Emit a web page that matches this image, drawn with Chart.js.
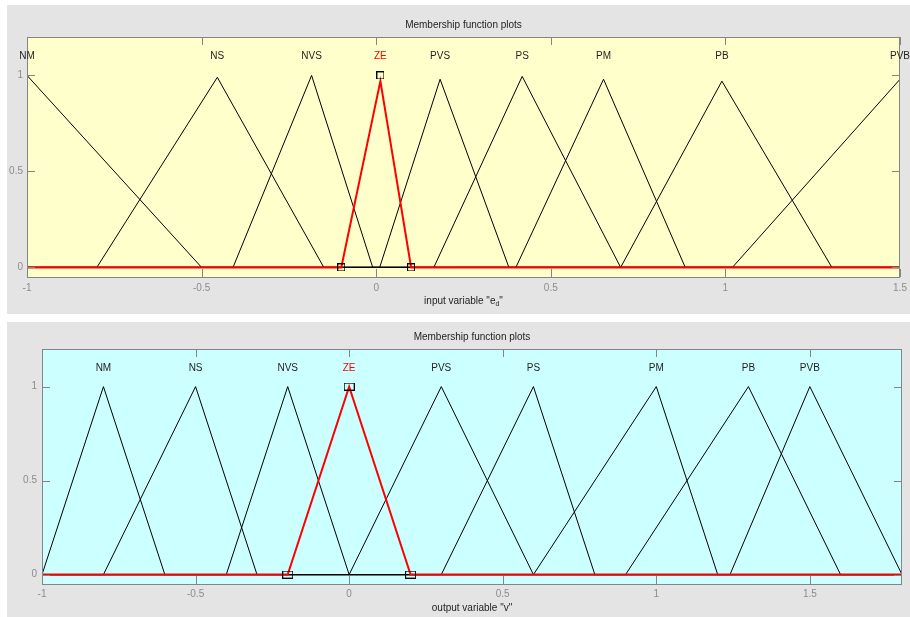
<!DOCTYPE html>
<html>
<head>
<meta charset="utf-8">
<title>Membership function plots</title>
<script src="https://cdn.jsdelivr.net/npm/chart.js@4.4.1/dist/chart.umd.min.js"></script>
<style>
  body { margin: 0; background: #fff; width: 910px; height: 617px; overflow: hidden; position: relative; }
  .panel { position: absolute; left: 7px; width: 903px; background: #e4e4e4; }
  .panel canvas { display: block; }
  #p1 { top: 5px; height: 309px; }
  #p2 { top: 322px; height: 295px; }
</style>
</head>
<body>
<div class="panel" id="p1"><canvas id="inChart" width="903" height="309"></canvas></div>
<div class="panel" id="p2"><canvas id="outChart" width="903" height="295"></canvas></div>
<script>
// triangular membership functions: left foot, peak, right foot (null = open shoulder)
const mfNames = ['NM', 'NS', 'NVS', 'ZE', 'PVS', 'PS', 'PM', 'PB', 'PVB'];
const selectedMf = 'ZE';

// input variable e_d
const inLeft   = [null, -0.80, -0.41, -0.10, 0.01, 0.165, 0.40, 0.70, 1.02];
const inPeak   = [-1, -0.455, -0.185, 0.012, 0.183, 0.418, 0.651, 0.99, 1.5];
const inRight  = [-0.5, -0.15, -0.01, 0.10, 0.38, 0.70, 0.885, 1.305, null];
const inHeight = [1, 0.99, 1, 0.97, 0.98, 0.995, 0.98, 0.97, 0.98];
const inTicks  = [-1, -0.5, 0, 0.5, 1, 1.5];

// output variable v
const outLeft   = [-1, -0.8, -0.4, -0.2, 0, 0.3, 0.6, 0.9, 1.24];
const outPeak   = [-0.8, -0.5, -0.2, 0, 0.3, 0.6, 1.0, 1.3, 1.5];
const outRight  = [-0.6, -0.3, 0, 0.2, 0.6, 0.8, 1.2, 1.6, 1.8];
const outHeight = [1, 1, 1, 1, 1, 1, 1, 1, 1];
const outTicks  = [-1, -0.5, 0, 0.5, 1, 1.5];

const yTicks = [0, 0.5, 1];

const FONT = "'Liberation Sans', Arial, sans-serif";

// small open box used to mark the parameters of the selected function
function boxMarker(w, h) {
    const c = document.createElement('canvas');
    c.width = w;
    c.height = h;
    const g = c.getContext('2d');
    g.strokeStyle = '#000';
    g.lineWidth = 1;
    g.strokeRect(0.5, 0.5, w - 1, h - 1);
    return c;
}

// axes background, inward ticks, mf names, title and x label
const panelDecor = {
    id: 'panelDecor',
    beforeDraw(chart, args, o) {
        const { ctx, chartArea: a } = chart;
        ctx.save();
        ctx.fillStyle = o.bg;
        ctx.fillRect(a.left, a.top, a.right - a.left, a.bottom - a.top);
        ctx.restore();
    },
    afterDraw(chart, args, o) {
        const { ctx, chartArea: a, scales: { x, y } } = chart;
        ctx.save();
        ctx.strokeStyle = '#858585';
        ctx.lineWidth = 1;
        ctx.beginPath();
        o.xTicks.forEach(v => {
            const px = Math.round(x.getPixelForValue(v)) + 0.5;
            ctx.moveTo(px, a.bottom); ctx.lineTo(px, a.bottom - 8);
            ctx.moveTo(px, a.top); ctx.lineTo(px, a.top + 8);
        });
        o.yTicks.forEach(v => {
            const py = Math.round(y.getPixelForValue(v)) + 0.5;
            ctx.moveTo(a.left, py); ctx.lineTo(a.left + 8, py);
            ctx.moveTo(a.right, py); ctx.lineTo(a.right - 8, py);
        });
        ctx.stroke();
        ctx.strokeRect(Math.round(a.left) + 0.5, Math.round(a.top) + 0.5,
            Math.round(a.right - a.left) - 1, Math.round(a.bottom - a.top));

        // membership function names above their peaks
        ctx.font = '10px ' + FONT;
        ctx.textAlign = 'center';
        ctx.textBaseline = 'middle';
        const ly = y.getPixelForValue(1.1);
        o.names.forEach((n, i) => {
            ctx.fillStyle = n === selectedMf ? '#ff0000' : '#1e1e1e';
            ctx.fillText(n, x.getPixelForValue(o.peaks[i]), ly);
        });

        const cx = (a.left + a.right) / 2;
        ctx.fillStyle = '#1e1e1e';
        ctx.fillText('Membership function plots', cx, a.top - 12);

        // x label, with optional subscript part
        let total = 0;
        o.xlabel.forEach(p => {
            ctx.font = (p.sub ? '7px ' : '10px ') + FONT;
            total += ctx.measureText(p.text).width;
        });
        let tx = cx - total / 2;
        const ty = a.bottom + 24;
        ctx.textAlign = 'left';
        o.xlabel.forEach(p => {
            ctx.font = (p.sub ? '7px ' : '10px ') + FONT;
            ctx.fillText(p.text, tx, p.sub ? ty + 3 : ty);
            tx += ctx.measureText(p.text).width;
        });
        ctx.restore();
    }
};

function buildChart(id, c) {
    const datasets = mfNames.map((name, i) => {
        const pts = [];
        if (c.left[i] !== null) {
            pts.push({ x: c.min, y: 0 });
            pts.push({ x: c.left[i], y: 0 });
        }
        pts.push({ x: c.peak[i], y: c.height[i] });
        if (c.right[i] !== null) {
            pts.push({ x: c.right[i], y: 0 });
            pts.push({ x: c.max, y: 0 });
        }
        const sel = name === selectedMf;
        return {
            label: name,
            data: pts,
            showLine: true,
            borderColor: sel ? '#ff0000' : '#000000',
            borderWidth: sel ? 2 : 1,
            pointRadius: 0,
            tension: 0,
            order: sel ? 0 : 1
        };
    });

    const s = mfNames.indexOf(selectedMf);
    datasets.push({
        label: selectedMf + ' params',
        data: [
            { x: c.left[s], y: 0 },
            { x: c.peak[s], y: 1 },
            { x: c.right[s], y: 0 }
        ],
        showLine: false,
        pointStyle: c.marker,
        pointRadius: 4,
        order: -1
    });

    const tickFont = { family: FONT, size: 10 };

    return new Chart(document.getElementById(id), {
        type: 'scatter',
        data: { datasets },
        plugins: [panelDecor],
        options: {
            responsive: false,
            animation: false,
            devicePixelRatio: 1,
            layout: { padding: c.padding },
            plugins: {
                legend: { display: false },
                tooltip: { enabled: false },
                panelDecor: {
                    bg: c.bg,
                    xTicks: c.ticks,
                    yTicks: yTicks,
                    names: mfNames,
                    peaks: c.peak,
                    xlabel: c.xlabel
                }
            },
            scales: {
                x: {
                    type: 'linear',
                    min: c.min,
                    max: c.max,
                    grid: { display: false, drawTicks: false },
                    border: { display: false },
                    ticks: {
                        color: '#8c8c8c', font: tickFont, padding: c.xPad,
                        maxRotation: 0, autoSkip: false,
                        callback: v => String(v)
                    },
                    afterBuildTicks: sc => { sc.ticks = c.ticks.map(v => ({ value: v })); },
                    afterFit: sc => {
                        sc.height = c.xHeight;
                        sc.paddingLeft = 0;
                        sc.paddingRight = 0;
                    }
                },
                y: {
                    type: 'linear',
                    min: -0.05,
                    max: 1.2,
                    grid: { display: false, drawTicks: false },
                    border: { display: false },
                    ticks: {
                        color: '#8c8c8c', font: tickFont, padding: c.yPad,
                        autoSkip: false,
                        callback: v => String(v)
                    },
                    afterBuildTicks: sc => { sc.ticks = yTicks.map(v => ({ value: v })); },
                    afterFit: sc => {
                        sc.width = c.yWidth;
                        sc.paddingTop = 0;
                        sc.paddingBottom = 0;
                    }
                }
            }
        }
    });
}

buildChart('inChart', {
    min: -1, max: 1.5,
    left: inLeft, peak: inPeak, right: inRight, height: inHeight,
    ticks: inTicks,
    bg: '#ffffcc',
    marker: boxMarker(8, 8),
    padding: { top: 32, right: 10, left: 0, bottom: 0 },
    yWidth: 20, xHeight: 37, xPad: 5, yPad: 4,
    xlabel: [{ text: 'input variable "e' }, { text: 'd', sub: true }, { text: '"' }]
});

buildChart('outChart', {
    min: -1, max: 1.8,
    left: outLeft, peak: outPeak, right: outRight, height: outHeight,
    ticks: outTicks,
    bg: '#ccffff',
    marker: boxMarker(11, 8),
    padding: { top: 27, right: 8, left: 0, bottom: 0 },
    yWidth: 35, xHeight: 33, xPad: 4, yPad: 5,
    xlabel: [{ text: 'output variable "v"' }]
});
</script>
</body>
</html>
